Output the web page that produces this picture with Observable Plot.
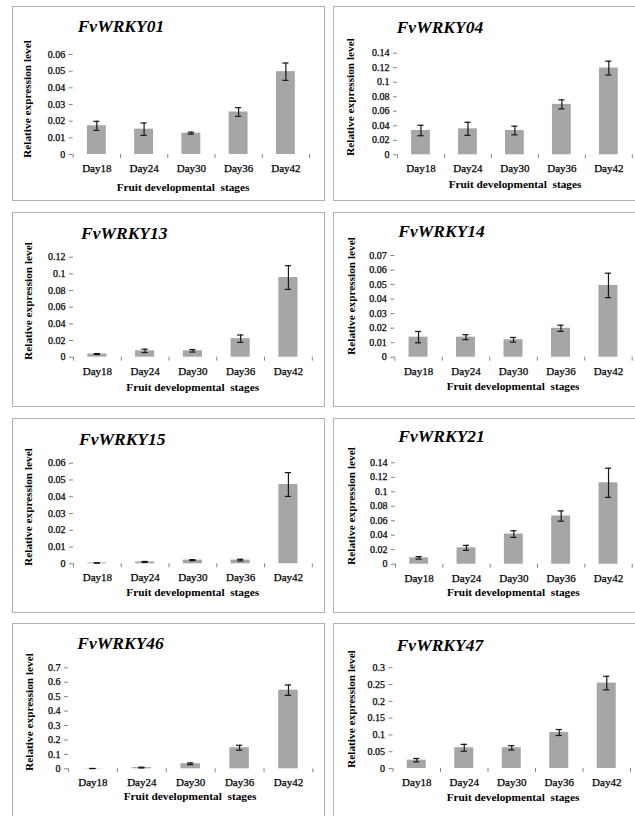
<!DOCTYPE html>
<html><head><meta charset="utf-8">
<script src="https://cdn.jsdelivr.net/npm/d3@7"></script>
<script src="https://cdn.jsdelivr.net/npm/@observablehq/plot@0.6"></script>
<style>
body{margin:0;background:#fff;}
#page{position:relative;width:635px;height:816px;overflow:hidden;background:#fff;}
.box{position:absolute;border:1.5px solid #b0b0b0;box-sizing:border-box;}
.ttl{position:absolute;font:italic bold 17.5px "Liberation Serif","Times New Roman",serif;line-height:1;white-space:nowrap;color:#000;}
.xt{position:absolute;font:bold 11.3px "Liberation Serif","Times New Roman",serif;line-height:1;white-space:pre;transform:translateX(-50%);color:#000;}
.yt{position:absolute;font:bold 11.3px "Liberation Serif","Times New Roman",serif;line-height:1;white-space:nowrap;transform:translate(-50%,-50%) rotate(-90deg);color:#000;}
.plt{position:absolute;}
.plt svg{overflow:visible;}
.plt svg, .plt svg text, .plt svg g{font-family:"Liberation Serif","Times New Roman",serif !important;}
.plt svg text{stroke:#000;stroke-width:0.25px;}
</style></head><body><div id="page"></div>
<script>
// ---------- data ----------
const categories = ["Day18", "Day24", "Day30", "Day36", "Day42"];
const genes = ["FvWRKY01", "FvWRKY04", "FvWRKY13", "FvWRKY14", "FvWRKY15", "FvWRKY21", "FvWRKY46", "FvWRKY47"];

const wrky01 = [0.0172, 0.0152, 0.0128, 0.0255, 0.0497];
const err01  = [0.0027, 0.0037, 0.0006, 0.0026, 0.0052];
const wrky04 = [0.0335, 0.0358, 0.0335, 0.0695, 0.1195];
const err04  = [0.0072, 0.0090, 0.0060, 0.0062, 0.0095];
const wrky13 = [0.0038, 0.0076, 0.0077, 0.0222, 0.0956];
const err13  = [0.0005, 0.0020, 0.0015, 0.0044, 0.0142];
const wrky14 = [0.0138, 0.0138, 0.0120, 0.0199, 0.0494];
const err14  = [0.0039, 0.0017, 0.0016, 0.0021, 0.0084];
const wrky15 = [0.0005, 0.0011, 0.0022, 0.0022, 0.0473];
const err15  = [0.0001, 0.0003, 0.0003, 0.0005, 0.0071];
const wrky21 = [0.0088, 0.0226, 0.0416, 0.0665, 0.1124];
const err21  = [0.0017, 0.0034, 0.0046, 0.0071, 0.0201];
const wrky46 = [0.0020, 0.0085, 0.0350, 0.1460, 0.5450];
const err46  = [0.0005, 0.0025, 0.0060, 0.0170, 0.0360];
const wrky47 = [0.0248, 0.0617, 0.0617, 0.1072, 0.2545];
const err47  = [0.0050, 0.0102, 0.0066, 0.0089, 0.0201];

const seriesValues = [wrky01, wrky04, wrky13, wrky14, wrky15, wrky21, wrky46, wrky47];
const seriesErrors = [err01, err04, err13, err14, err15, err21, err46, err47];

// y-axis tick labels: maximum and step of each panel
const yMax  = [0.06, 0.14, 0.12, 0.07, 0.06, 0.14, 0.7, 0.3];
const yStep = [0.01, 0.02, 0.02, 0.01, 0.01, 0.02, 0.1, 0.05];

const yTitle = "Relative expression level";
const xTitle = "Fruit developmental  stages";

// ---------- layout (page pixels) ----------
const layout = [
  {box:[12,6],   plot:[72.7,54,309,154],      title:[77.7,32.3],  xt:[183,188],    yt:[28.3,99]},
  {box:[333,6],  plot:[397,52.7,631.8,154.3], title:[396.7,33.3], xt:[515,185],    yt:[351,96.7]},
  {box:[12,212], plot:[73,256.7,311.8,356.7], title:[81,240],     xt:[192.7,387.7],yt:[29.3,300.8]},
  {box:[333,212],plot:[394.3,255,631.7,356.7],title:[398.3,237.3],xt:[513,386.7],  yt:[351.7,296]},
  {box:[12,418], plot:[73,462.7,311.8,563.3], title:[79,446],     xt:[192.7,592.7],yt:[29,507]},
  {box:[333,418],plot:[395,462.3,631.7,563.7],title:[398.3,442.3],xt:[513.3,593],  yt:[351.7,505.8]},
  {box:[12,623], plot:[68,667.3,312.4,768.3], title:[77.3,649.3], xt:[190,797.3],  yt:[30,711.7]},
  {box:[333,623],plot:[392.5,667.3,630,768],  title:[396.7,651.7],xt:[513,797.7],  yt:[352.3,709]}
];
const BOXW = 313, BOXH = 195, SW = 320, SH = 200;
const barColor = "#a6a6a6", axisColor = "#868686", errColor = "#151515";
const cap = 0.065; // half cap width in category units
const serif = '"Liberation Serif","Times New Roman",serif';

const page = document.getElementById("page");
function el(cls, text, css) {
  const d = document.createElement("div");
  d.className = cls; if (text != null) d.textContent = text;
  Object.assign(d.style, css); page.appendChild(d); return d;
}
const fmt = d => String(+d.toFixed(4));

genes.forEach((gene, k) => {
  const L = layout[k];
  el("box", null, {left: L.box[0] + "px", top: L.box[1] + "px", width: BOXW + "px", height: BOXH + "px"});

  const rows = categories.map((c, i) => ({c, i, v: seriesValues[k][i], e: seriesErrors[k][i]}));
  const n = Math.round(yMax[k] / yStep[k]);
  const yTicks = d3.range(0, n + 1).map(j => +(j * yStep[k]).toFixed(4));

  const chart = Plot.plot({
    width: SW, height: SH,
    marginLeft: L.plot[0] - L.box[0],
    marginRight: SW - (L.plot[2] - L.box[0]),
    marginTop: L.plot[1] - L.box[1],
    marginBottom: SH - (L.plot[3] - L.box[1]),
    style: {fontFamily: serif, fontSize: "10px", color: "#000", background: "transparent", overflow: "visible"},
    x: {domain: [0, categories.length], axis: null},
    y: {domain: [0, yMax[k]], axis: null},
    marks: [
      Plot.rect(rows, {x1: d => d.i + 0.3, x2: d => d.i + 0.7, y1: 0, y2: "v", fill: barColor}),
      Plot.ruleX(rows, {x: d => d.i + 0.5, y1: d => d.v - d.e, y2: d => d.v + d.e, stroke: errColor, strokeWidth: 1.2}),
      Plot.ruleY(rows, {y: d => d.v + d.e, x1: d => d.i + 0.5 - cap, x2: d => d.i + 0.5 + cap, stroke: errColor, strokeWidth: 1.2}),
      Plot.ruleY(rows, {y: d => d.v - d.e, x1: d => d.i + 0.5 - cap, x2: d => d.i + 0.5 + cap, stroke: errColor, strokeWidth: 1.2}),
      Plot.axisY({ticks: yTicks, tickSize: 4, tickPadding: 4, tickFormat: fmt, line: true, stroke: axisColor, color: "#000", fontSize: 10, fontFamily: serif, label: null}),
      Plot.axisX({ticks: d3.range(0, categories.length + 1), tickSize: 4, tickFormat: () => "", line: true, stroke: axisColor, label: null}),
      Plot.axisX({ticks: categories.map((c, i) => i + 0.5), tickSize: 0, tickPadding: 9.5, tickFormat: d => categories[Math.floor(d)], color: "#000", fontSize: 11, fontFamily: serif, label: null})
    ]
  });
  const holder = el("plt", null, {left: L.box[0] + "px", top: L.box[1] + "px", width: SW + "px", height: SH + "px"});
  holder.appendChild(chart);
  chart.setAttribute("font-family", serif);
  chart.querySelectorAll("text, g").forEach(t => { t.style.fontFamily = serif; });
  chart.querySelectorAll("text").forEach(t => t.setAttribute("fill", "#000"));

  el("ttl", gene, {left: L.title[0] + "px", top: (L.title[1] - 0.8375 * 17.5) + "px"});
  el("xt", xTitle, {left: L.xt[0] + "px", top: (L.xt[1] - 0.54 * 11.3) + "px"});
  el("yt", yTitle, {left: L.yt[0] + "px", top: L.yt[1] + "px"});
});
</script>
</body></html>
